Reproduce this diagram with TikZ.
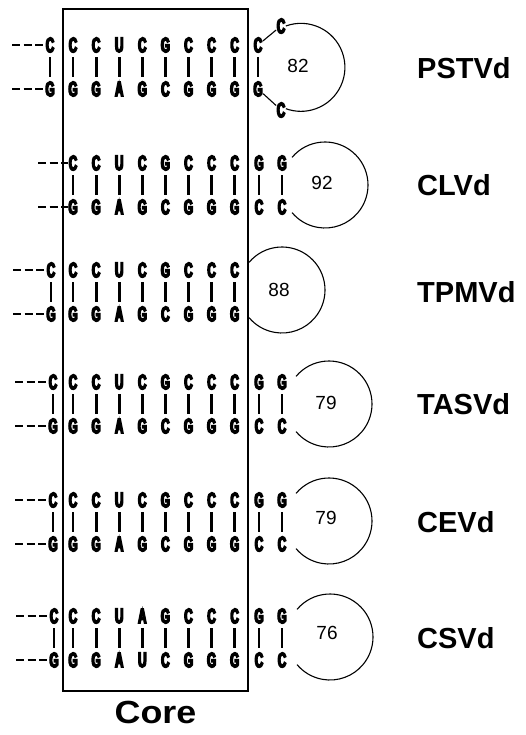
\documentclass[tikz,border=0pt]{standalone}
\usepackage{fontspec}
\setmainfont{Liberation Sans}
\newfontfamily\basefnt[FakeStretch=0.55, FakeBold=7]{Liberation Sans Bold}
\newfontfamily\corefnt[FakeStretch=1.12]{Liberation Sans Bold}
\usetikzlibrary{positioning}

\begin{document}
\begin{tikzpicture}[
        x=1pt, y=1pt,
        base/.style={font=\basefnt\fontsize{21}{21}\selectfont, inner sep=0.5pt},
        bar/.style={line width=2.8pt, shorten <=4pt, shorten >=4pt},
        strand/.style={line width=2.8pt, dash pattern=on 8pt off 3.5pt},
        thin/.style={line width=1.1pt},
        count/.style={font=\fontsize{19}{19}\selectfont, inner sep=0pt},
        virus/.style={font=\bfseries\fontsize{29}{29}\selectfont, anchor=west, inner sep=0pt}
    ]

    \useasboundingbox (0,0) rectangle (525,-735);

    % core box
    \node[draw, line width=2.5pt, minimum width=185pt, minimum height=682pt, inner sep=0pt] (core) at (155.5,-350) {};
    \node[font=\corefnt\fontsize{32}{32}\selectfont, below=9pt of core, inner sep=0pt] (corelabel) {Core};

    % paired bases inside the core
    \foreach \r/\y/\pairs in {
        ps/67/{C/G,C/G,U/A,C/G,G/C,C/G,C/G,C/G},
        cl/185/{C/G,C/G,U/A,C/G,G/C,C/G,C/G,C/G},
        tp/292/{C/G,C/G,U/A,C/G,G/C,C/G,C/G,C/G},
        ta/404/{C/G,C/G,U/A,C/G,G/C,C/G,C/G,C/G},
        ce/522/{C/G,C/G,U/A,C/G,G/C,C/G,C/G,C/G},
        cs/638/{C/G,C/G,U/A,A/U,G/C,C/G,C/G,C/G}} {
        \foreach \t/\b [count=\i from 0] in \pairs {
            \node[base] (\r-t\i) at ({73+23.1*\i},{-\y+22}) {\t};
            \node[base] (\r-b\i) at ({73+23.1*\i},{-\y-22}) {\b};
            \draw[bar] (\r-t\i) -- (\r-b\i);
        }
    }

    % left pair and strand ends
    \foreach \r/\y/\x in {ps/67/50, tp/292/51, ta/404/53, ce/522/53, cs/638/54} {
        \node[base] (\r-tl) at (\x,{-\y+22}) {C};
        \node[base] (\r-bl) at (\x,{-\y-22}) {G};
        \draw[bar] (\r-tl) -- (\r-bl);
        \coordinate (\r-dt) at ({\x-38},{-\y+22});
        \coordinate (\r-db) at ({\x-38},{-\y-22});
        \draw[strand] (\r-dt) -- (\r-tl);
        \draw[strand] (\r-db) -- (\r-bl);
    }
    \coordinate (cl-dt) at (38,-163);
    \coordinate (cl-db) at (38,-207);
    \draw[strand] (cl-dt) -- (cl-t0);
    \draw[strand] (cl-db) -- (cl-b0);

    % right pairs
    \foreach \r/\y in {cl/185, ta/404, ce/522, cs/638} {
        \foreach \x [count=\j] in {259, 282} {
            \node[base] (\r-tr\j) at (\x,{-\y+22}) {G};
            \node[base] (\r-br\j) at (\x,{-\y-22}) {C};
            \draw[bar] (\r-tr\j) -- (\r-br\j);
        }
    }

    % PSTVd loop
    \node[base] (ps-tr) at (258,-45) {C};
    \node[base] (ps-br) at (258,-89) {G};
    \draw[bar] (ps-tr) -- (ps-br);
    \node[base] (ps-lt) at (281,-26) {C};
    \node[base] (ps-lb) at (281,-110) {C};
    \draw[thin] (ps-tr) -- (ps-lt);
    \draw[thin] (ps-br) -- (ps-lb);
    \draw[thin] (ps-lt.east) arc[start angle=110, end angle=-110, radius=44];
    \node[count] (ps-n) at (298,-66) {82};

    % other loops
    \foreach \r/\cx/\cy/\n/\ny in {cl/325/185/92/183, tp/282/290/88/290, ta/329/404/79/403, ce/329/521/79/518, cs/330/637/76/633} {
        \coordinate (\r-c) at (\cx,-\cy);
        \node[count] (\r-n) at ({\cx-3},-\ny) {\n};
        \draw[thin] ([shift={(140:43)}]\r-c) arc[start angle=140, end angle=-140, radius=43];
    }

    % names
    \foreach \r/\y/\v in {ps/68/PSTVd, cl/185/CLVd, tp/292/TPMVd, ta/404/TASVd, ce/522/CEVd, cs/638/CSVd} {
        \node[virus] (\r-name) at (417,-\y) {\v};
    }

    \end{tikzpicture}
\end{document}
